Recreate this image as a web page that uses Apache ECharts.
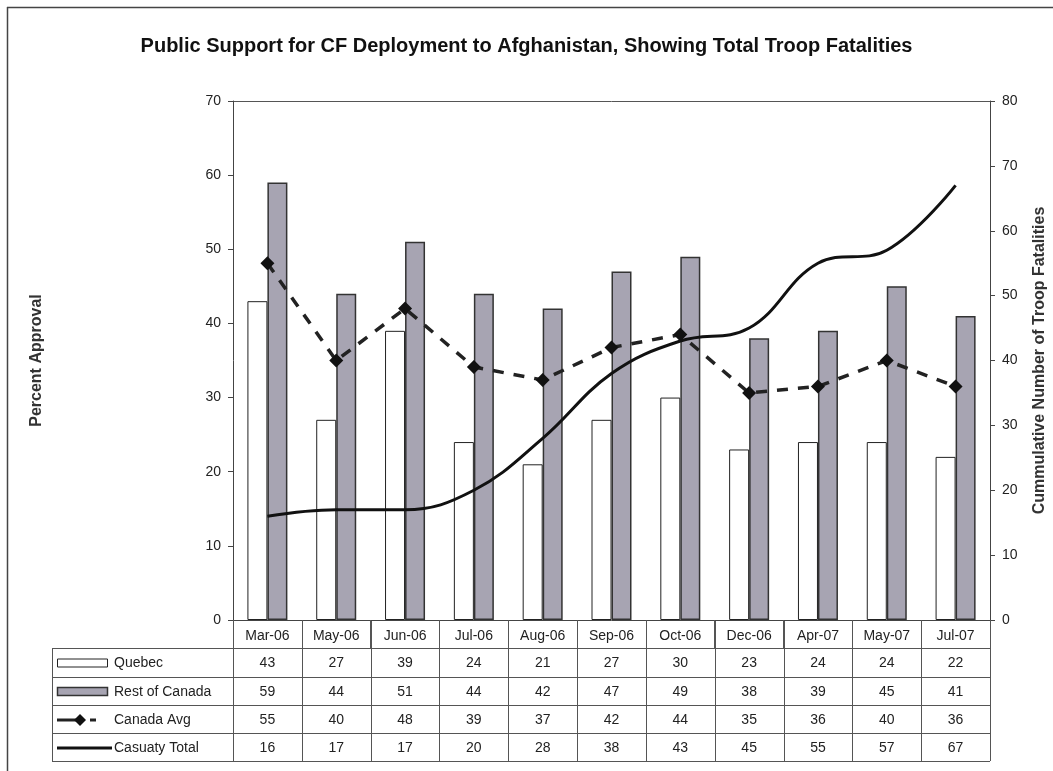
<!DOCTYPE html>
<html>
<head>
<meta charset="utf-8">
<script src="https://cdn.jsdelivr.net/npm/echarts@6/dist/echarts.min.js"></script>
<style>html,body{margin:0;padding:0;background:#fff;}#c{width:1053px;height:771px;}</style>
</head>
<body>
<div id="c"></div>
<script>
const categories = ['Mar-06','May-06','Jun-06','Jul-06','Aug-06','Sep-06','Oct-06','Dec-06','Apr-07','May-07','Jul-07'];
const quebec = [43,27,39,24,21,27,30,23,24,24,22];
const restOfCanada = [59,44,51,44,42,47,49,38,39,45,41];
const canadaAvg = [55,40,48,39,37,42,44,35,36,40,36];
const casualtyTotal = [16,17,17,20,28,38,43,45,55,57,67];
const seriesNames = ['Quebec','Rest of Canada','Canada Avg','Casuaty Total'];

const FONT = 'Liberation Sans, Arial, sans-serif';
const chart = echarts.init(document.getElementById('c'), null, {renderer:'canvas'});
const GL = 233, GR = 990, GT = 101, GB = 620;

chart.setOption({
  animation:false,
  backgroundColor:'#fff',
  title:{
    text:'Public Support for CF Deployment to Afghanistan, Showing Total Troop Fatalities',
    left:'center', top:31,
    textStyle:{fontFamily:FONT, fontSize:20, fontWeight:'bold', color:'#111'}
  },
  grid:{left:GL, right:1053-GR, top:GT, bottom:771-GB, outerBoundsMode:'none', containLabel:false, show:false},
  xAxis:{
    type:'category', data:categories,
    axisLine:{lineStyle:{color:'#444', width:1}},
    axisTick:{show:true, length:28, lineStyle:{color:'#555'}},
    axisLabel:{color:'#222', fontFamily:FONT, fontSize:14, margin:9}
  },
  yAxis:[
    {type:'value', min:0, max:70, interval:10,
     name:'Percent Approval', nameLocation:'middle', nameGap:188, nameRotate:90,
     nameTextStyle:{fontFamily:FONT, fontSize:16, fontWeight:'bold', color:'#333'},
     axisLine:{show:true, lineStyle:{color:'#444'}},
     axisTick:{show:true, length:5, lineStyle:{color:'#444'}},
     splitLine:{show:false},
     axisLabel:{color:'#222', fontFamily:FONT, fontSize:14, margin:12}},
    {type:'value', min:0, max:80, interval:10,
     name:'Cummulative Number of Troop Fatalities', nameLocation:'middle', nameGap:42, nameRotate:90,
     nameTextStyle:{fontFamily:FONT, fontSize:16, fontWeight:'bold', color:'#333'},
     axisLine:{show:true, lineStyle:{color:'#444'}},
     axisTick:{show:true, length:5, lineStyle:{color:'#444'}},
     splitLine:{show:false},
     axisLabel:{color:'#222', fontFamily:FONT, fontSize:14, margin:12}}
  ],
  series:[
    {name:seriesNames[0], type:'bar', data:quebec, barWidth:20, barGap:'0%', yAxisIndex:0,
     itemStyle:{color:'#fff', borderColor:'#222', borderWidth:1}},
    {name:seriesNames[1], type:'bar', data:restOfCanada, barWidth:20, barGap:'0%', yAxisIndex:0,
     itemStyle:{color:'#a7a4b2', borderColor:'#333', borderWidth:1.5}},
    {name:seriesNames[2], type:'line', data:canadaAvg, yAxisIndex:1,
     symbol:'diamond', symbolSize:14, showSymbol:true,
     lineStyle:{color:'#222', width:3.5, type:[11,10]},
     itemStyle:{color:'#111'}, z:5},
    {name:seriesNames[3], type:'line', data:casualtyTotal, yAxisIndex:1,
     smooth:0.4, symbol:'none',
     lineStyle:{color:'#111', width:3}, z:6}
  ]
});

// Data table drawn beneath the axis, positioned from the category axis scale
function buildTable(){
  const n = categories.length;
  const c0 = chart.convertToPixel({xAxisIndex:0}, 0);
  const c1 = chart.convertToPixel({xAxisIndex:0}, 1);
  const bw = c1 - c0;
  const left = c0 - bw/2, right = left + bw*n;
  const top = chart.convertToPixel({yAxisIndex:0}, 70);
  const bottom = chart.convertToPixel({yAxisIndex:0}, 0);
  const rowTops = [648, 677, 705, 733, 761];
  const tL = 52;
  const els = [];
  const ls = {stroke:'#555', lineWidth:1};
  rowTops.forEach(y=>{
    els.push({type:'line', shape:{x1:tL, y1:y+0.5, x2:right, y2:y+0.5}, style:ls, silent:true});
  });
  els.push({type:'line', shape:{x1:tL+0.5, y1:rowTops[0], x2:tL+0.5, y2:rowTops[4]}, style:ls});
  for(let i=0;i<=n;i++){
    const x = Math.round(left + bw*i)+0.5;
    els.push({type:'line', shape:{x1:x, y1:bottom, x2:x, y2:rowTops[4]}, style:ls});
  }
  const rows = [quebec, restOfCanada, canadaAvg, casualtyTotal];
  rows.forEach((arr, r)=>{
    const cy = (rowTops[r]+rowTops[r+1])/2 + 1;
    arr.forEach((v,i)=>{
      els.push({type:'text', x: left + bw*(i+0.5), y: cy,
        style:{text:String(v), fill:'#222', font:'14px '+FONT, textAlign:'center', textVerticalAlign:'middle'}});
    });
    els.push({type:'text', x:114, y:cy,
      style:{text:seriesNames[r], fill:'#222', font:'14px '+FONT, textAlign:'left', textVerticalAlign:'middle'}});
  });
  // legend keys
  const k0 = (rowTops[0]+rowTops[1])/2+1, k1=(rowTops[1]+rowTops[2])/2+1, k2=(rowTops[2]+rowTops[3])/2+1, k3=(rowTops[3]+rowTops[4])/2+1;
  els.push({type:'rect', shape:{x:57.5, y:k0-4.5, width:50, height:8}, style:{fill:'#fff', stroke:'#222', lineWidth:1}});
  els.push({type:'rect', shape:{x:57.5, y:k1-4.5, width:50, height:8}, style:{fill:'#a7a4b2', stroke:'#333', lineWidth:1.5}});
  els.push({type:'line', shape:{x1:57, y1:k2, x2:80, y2:k2}, style:{stroke:'#222', lineWidth:3}});
  els.push({type:'polygon', shape:{points:[[80,k2-6],[86,k2],[80,k2+6],[74,k2]]}, style:{fill:'#111'}});
  els.push({type:'line', shape:{x1:90, y1:k2, x2:96, y2:k2}, style:{stroke:'#222', lineWidth:3}});
  els.push({type:'line', shape:{x1:57, y1:k3, x2:112, y2:k3}, style:{stroke:'#111', lineWidth:3}});
  // top border of plot area
  els.push({type:'line', shape:{x1:left, y1:Math.round(top)+0.5, x2:right, y2:Math.round(top)+0.5}, style:{stroke:'#555', lineWidth:1}});
  // outer frame (top and left edges visible)
  els.push({type:'line', shape:{x1:7, y1:7.5, x2:1053, y2:7.5}, style:{stroke:'#444', lineWidth:1.5}});
  els.push({type:'line', shape:{x1:7.5, y1:7, x2:7.5, y2:771}, style:{stroke:'#444', lineWidth:1.5}});
  chart.setOption({graphic:{elements:els}});
}
buildTable();
</script>
</body>
</html>
